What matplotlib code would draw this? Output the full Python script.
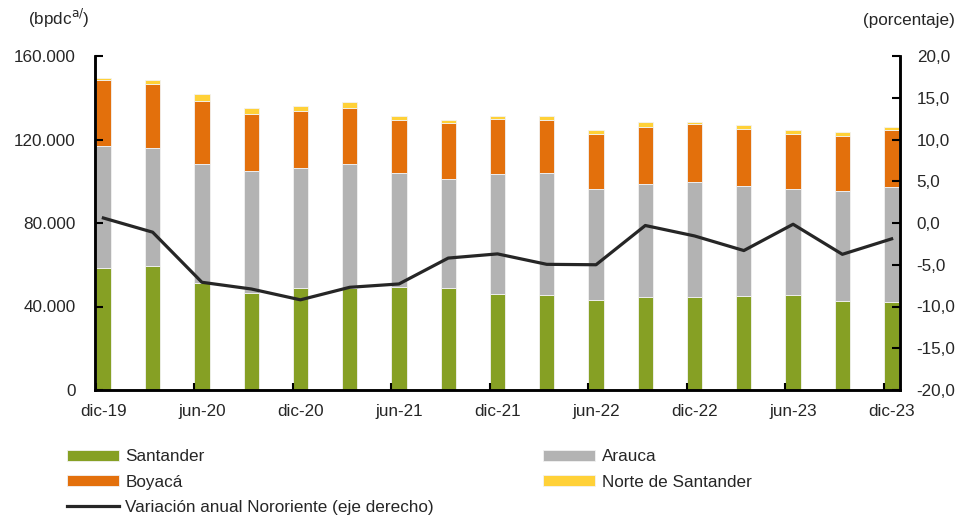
import matplotlib.pyplot as plt
import numpy as np

periods = ['dic-19', 'mar-20', 'jun-20', 'sep-20', 'dic-20', 'mar-21', 'jun-21', 'sep-21', 'dic-21',
           'mar-22', 'jun-22', 'sep-22', 'dic-22', 'mar-23', 'jun-23', 'sep-23', 'dic-23']
santander = [58600, 59250, 51100, 46300, 48700, 48700, 49350, 48700, 46150,
             45500, 43250, 44400, 44400, 45030, 45500, 42650, 42000]
arauca = [58300, 56550, 57150, 58450, 57800, 59550, 54600, 52400, 57320,
          58600, 52900, 54300, 55400, 52840, 50650, 52680, 55250]
boyaca = [31450, 30650, 30200, 27600, 27150, 27000, 25250, 26950, 26530,
          25100, 26350, 27450, 27600, 27030, 26350, 26470, 27150]
norte = [1250, 2150, 3200, 2600, 2550, 2750, 2050, 1300, 1250,
         2050, 1900, 2400, 1150, 2050, 1900, 1950, 1750]
variacion = [0.6, -1.1, -7.1, -7.9, -9.2, -7.7, -7.3, -4.2, -3.7,
             -4.95, -5.0, -0.3, -1.55, -3.3, -0.15, -3.75, -1.9]

c_green = '#86A024'
c_gray = '#B3B3B3'
c_orange = '#E3700C'
c_yellow = '#FFD138'

plt.rcParams['font.family'] = ['Liberation Sans', 'DejaVu Sans']
fs = 12.3

fig = plt.figure(figsize=(9.59, 5.16), dpi=100)
ax = fig.add_axes([95 / 959, 1 - 390 / 516, 805 / 959, 334 / 516])
ax2 = ax.twinx()

x = np.arange(len(periods))
w = 0.31
s = np.array(santander)
a = np.array(arauca)
b = np.array(boyaca)
n = np.array(norte)
ax.bar(x, s, w, color=c_green, label='Santander', edgecolor='#f2f2f2', linewidth=0.6)
ax.bar(x, b, w, bottom=s + a, color=c_orange, label='Boyacá', edgecolor='#f2f2f2', linewidth=0.6)
ax.bar(x, a, w, bottom=s, color=c_gray, label='Arauca', edgecolor='#f2f2f2', linewidth=0.6)
ax.bar(x, n, w, bottom=s + a + b, color=c_yellow, label='Norte de Santander', edgecolor='#f2f2f2', linewidth=0.6)
line, = ax2.plot(x, variacion, color='#262626', lw=2.3, label='Variación anual Nororiente (eje derecho)')

ax.set_xlim(-0.17, len(periods) - 1 + 0.17)
ax.set_ylim(0, 160000)
ax.set_yticks([0, 40000, 80000, 120000, 160000])
ax.set_yticklabels(['0', '40.000', '80.000', '120.000', '160.000'])
ax2.set_ylim(-20, 20)
ax2.set_yticks(np.arange(-20, 21, 5))
ax2.set_yticklabels([f'{v:.1f}'.replace('.', ',') for v in np.arange(-20, 21, 5)])

ax.set_xticks(x[::2])
ax.set_xticklabels(periods[::2])
ax.set_xticks(x[::2] - w / 2, minor=True)
ax.tick_params(axis='x', which='major', length=0, pad=10, labelsize=fs, colors='#262626')
ax.tick_params(axis='x', which='minor', direction='in', length=5, width=1.5)
ax.tick_params(axis='y', direction='in', length=6, width=1.5, pad=14, labelsize=fs, labelcolor='#262626')
ax2.tick_params(axis='y', direction='in', length=6, width=1.5, pad=12, labelsize=fs, labelcolor='#262626')

for sp in ['top']:
    ax.spines[sp].set_visible(False)
    ax2.spines[sp].set_visible(False)
for a_ in (ax, ax2):
    for sp in ['left', 'right', 'bottom']:
        a_.spines[sp].set_linewidth(1.8)

fig.text(28 / 959, 1 - 18 / 516, '(bpdc$^{\\mathrm{a/}}$)', fontsize=fs, color='#262626', va='center')
fig.text(955 / 959, 1 - 20 / 516, '(porcentaje)', fontsize=fs, color='#262626', va='center', ha='right')

handles, labels = ax.get_legend_handles_labels()
order = [handles[0], handles[1], line, handles[2], handles[3]]
names = ['Santander', 'Boyacá', 'Variación anual Nororiente (eje derecho)', 'Arauca', 'Norte de Santander']
leg = fig.legend(order, names, ncol=2, loc='upper left', bbox_to_anchor=(52 / 959, 1 - 434 / 516),
                 frameon=False, handlelength=3.0, handleheight=0.65, handletextpad=0.4,
                 columnspacing=6.4, labelspacing=0.6, prop={'size': 12.3})
for t in leg.get_texts():
    t.set_color('#262626')

fig.savefig('out.png', dpi=100)
